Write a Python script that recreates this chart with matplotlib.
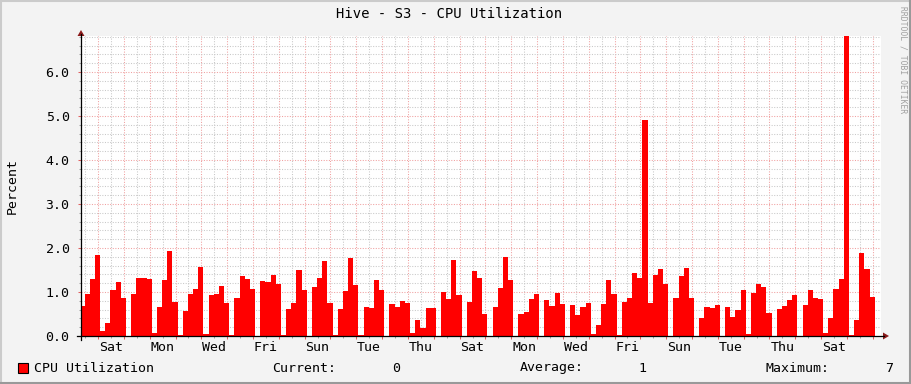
import matplotlib
matplotlib.use("Agg")
import matplotlib.pyplot as plt
from matplotlib.ticker import MultipleLocator, FormatStrFormatter
from matplotlib.lines import Line2D
from matplotlib.patches import Polygon, Rectangle
from matplotlib.transforms import offset_copy

# samples every 0.2 day, time in days counted from Saturday 00:00
t_start = -0.72
t_step = 0.2
cpu = [
    0.69, 0.95, 1.30, 1.84, 0.11, 0.30, 1.05, 1.23, 0.86, 0.00,
    0.95, 1.32, 1.31, 1.30, 0.07, 0.66, 1.27, 1.93, 0.77, 0.02,
    0.57, 0.95, 1.07, 1.57, 0.04, 0.93, 0.95, 1.14, 0.75, 0.02,
    0.86, 1.36, 1.30, 1.07, 0.00, 1.25, 1.23, 1.39, 1.18, 0.03,
    0.61, 0.75, 1.50, 1.05, 0.00, 1.11, 1.32, 1.70, 0.75, 0.02,
    0.61, 1.02, 1.77, 1.16, 0.02, 0.66, 0.64, 1.27, 1.05, 0.00,
    0.73, 0.66, 0.80, 0.75, 0.07, 0.36, 0.18, 0.64, 0.64, 0.00,
    1.00, 0.84, 1.73, 0.93, 0.00, 0.77, 1.48, 1.32, 0.50, 0.00,
    0.66, 1.09, 1.80, 1.27, 0.00, 0.50, 0.55, 0.84, 0.95, 0.00,
    0.82, 0.68, 0.97, 0.73, 0.00, 0.70, 0.48, 0.66, 0.75, 0.05,
    0.25, 0.73, 1.27, 0.95, 0.02, 0.78, 0.86, 1.43, 1.32, 4.91,
    0.76, 1.39, 1.52, 1.19, 0.00, 0.86, 1.37, 1.55, 0.86, 0.00,
    0.41, 0.66, 0.63, 0.70, 0.00, 0.66, 0.43, 0.59, 1.05, 0.05,
    0.98, 1.18, 1.11, 0.52, 0.00, 0.61, 0.68, 0.82, 0.93, 0.00,
    0.70, 1.05, 0.86, 0.84, 0.07, 0.41, 1.07, 1.30, 6.82, 0.02,
    0.36, 1.89, 1.52, 0.89, 0.00,
]
day_names = ["Sat", "Mon", "Wed", "Fri", "Sun", "Tue", "Thu", "Sat",
             "Mon", "Wed", "Fri", "Sun", "Tue", "Thu", "Sat"]
day_pos = [0.5 + 2 * k for k in range(len(day_names))]

legend_stats = [("Current:", "0"), ("Average:", "1"), ("Maximum:", "7")]

x_min, x_max = -0.662, 30.32
y_max = 6.82

W, H = 911, 384
mono = "DejaVu Sans Mono"


def fx(x):
    return x / W


def fy(y):
    return 1 - y / H


fig = plt.figure(figsize=(W / 100, H / 100), dpi=100, facecolor="#F3F3F3")
ax = fig.add_axes([fx(81), fy(336), 800 / W, 300 / H])
ax.set_facecolor("white")

t = [t_start + t_step * i for i in range(len(cpu))]
ax.bar(t, cpu, width=t_step, align="edge", color="#FF0000", linewidth=0, zorder=2)

ax.set_xlim(x_min, x_max)
ax.set_ylim(0, y_max)

ax.xaxis.set_major_locator(MultipleLocator(1))
ax.xaxis.set_minor_locator(MultipleLocator(0.5))
ax.yaxis.set_major_locator(MultipleLocator(1))
ax.yaxis.set_minor_locator(MultipleLocator(0.2))
ax.yaxis.set_major_formatter(FormatStrFormatter("%.1f"))
ax.set_xticklabels([])

ax.grid(True, which="major", color="#F0A0A0", linestyle=(0, (1, 1.5)), linewidth=0.75, zorder=1)
ax.grid(True, which="minor", color="#C8C8C8", linestyle=(0, (1, 1.5)), linewidth=0.75, zorder=1)
ax.set_axisbelow(True)

ax.tick_params(axis="both", which="major", direction="out", length=2.2, width=0.75, color="#E06060",
               labelsize=9.5, pad=6)
ax.tick_params(axis="both", which="minor", direction="out", length=1.5, width=0.75, color="#A0A0A0")
for lab in ax.get_yticklabels():
    lab.set_family(mono)

for s in ax.spines.values():
    s.set_visible(False)

# day names at noon of each labelled day
trans = offset_copy(ax.get_xaxis_transform(), fig=fig, y=-5, units="dots")
for p, name in zip(day_pos, day_names):
    ax.text(p, 0, name, transform=trans, ha="center", va="top", fontsize=9.5, family=mono)

# axis lines and arrows
fig.add_artist(Line2D([fx(77), fx(884)], [fy(336), fy(336)], color="black", lw=0.9))
fig.add_artist(Line2D([fx(81), fx(81)], [fy(340), fy(34)], color="black", lw=0.9))
fig.add_artist(Polygon([(fx(883), fy(332.5)), (fx(889), fy(336)), (fx(883), fy(339.5))],
                       closed=True, color="#8B1A1A", lw=0))
fig.add_artist(Polygon([(fx(77.5), fy(36)), (fx(81), fy(30)), (fx(84.5), fy(36))],
                       closed=True, color="#8B1A1A", lw=0))

fig.text(fx(449), fy(14), "Hive - S3 - CPU Utilization", ha="center", va="center",
         fontsize=10, family=mono)
fig.text(fx(12), fy(186), "Percent", ha="center", va="center", rotation=90,
         fontsize=9.5, family=mono)
fig.text(fx(903), fy(6), "RRDTOOL / TOBI OETIKER", ha="center", va="top", rotation=270,
         fontsize=5.8, family=mono, color="#A0A0A0")

# legend row
fig.add_artist(Rectangle((fx(17.5), fy(372.5)), 10 / W, 10 / H, facecolor="#FF0000",
                         edgecolor="black", lw=0.8))
fig.text(fx(34), fy(368), "CPU Utilization", ha="left", va="center", fontsize=9.5, family=mono)
for (name, val), x0, x1 in zip(legend_stats, [272, 520, 766], [400, 646, 893]):
    fig.text(fx(x0), fy(368), name, ha="left", va="center", fontsize=9.5, family=mono)
    fig.text(fx(x1), fy(368), val, ha="right", va="center", fontsize=9.5, family=mono)

# frame shading
fig.add_artist(Line2D([0, 1], [fy(0.5), fy(0.5)], color="#CBCBCB", lw=1.5))
fig.add_artist(Line2D([fx(0.5), fx(0.5)], [0, 1], color="#CBCBCB", lw=1.5))
fig.add_artist(Line2D([0, 1], [fy(383), fy(383)], color="#999999", lw=1.5))
fig.add_artist(Line2D([fx(910), fx(910)], [0, 1], color="#999999", lw=1.5))

fig.savefig("out.png", dpi=100, facecolor=fig.get_facecolor())
